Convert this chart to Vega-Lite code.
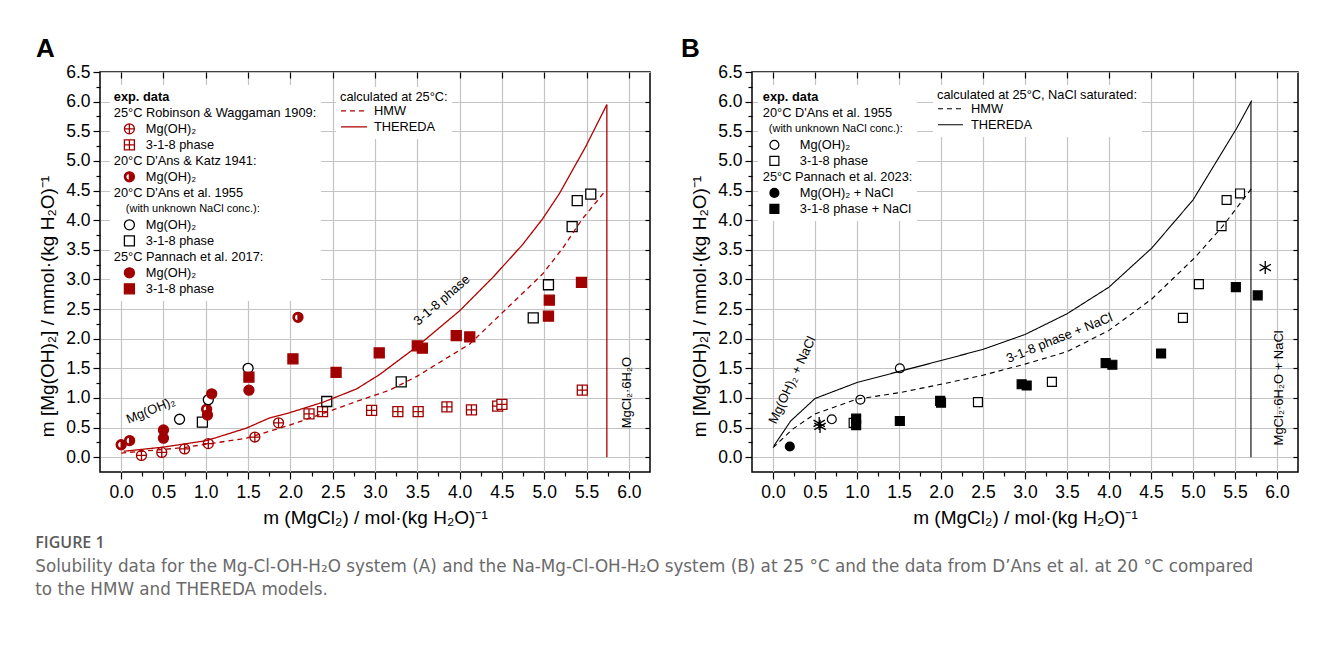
{
  "$schema": "https://vega.github.io/schema/vega-lite/v6.json",
  "background": "white",
  "padding": {"left": 35, "top": 35, "right": 5, "bottom": 5},
  "bounds": "flush",
  "spacing": 102,
  "title": {
    "text": "FIGURE 1",
    "subtitle": ["Solubility data for the Mg-Cl-OH-H₂O system (A) and the Na-Mg-Cl-OH-H₂O system (B) at 25 °C and the data from D’Ans et al. at 20 °C compared", "to the HMW and THEREDA models."],
    "orient": "bottom", "anchor": "start", "frame": "bounds", "offset": 7,
    "font": "Open Sans", "fontSize": 16, "fontWeight": 600, "color": "#5a5a5a",
    "subtitleFont": "DejaVu Sans", "subtitleFontSize": 16.8, "subtitleColor": "#6a6a6a", "subtitleLineHeight": 23, "subtitlePadding": 8
  },
  "config": {
    "font": "Liberation Sans",
    "view": {"stroke": "black", "strokeWidth": 1.5},
    "axis": {"labelFont": "Liberation Sans", "labelFontSize": 17.5, "labelColor": "black", "titleFont": "Liberation Sans", "titleFontSize": 19, "titleFontWeight": "normal", "titleColor": "black", "tickColor": "black", "tickWidth": 1.2, "gridColor": "#c4c4c4", "gridWidth": 1.2, "domain": false},
    "legend": {"labelFont": "Liberation Sans", "titleFont": "Liberation Sans", "labelColor": "black", "titleColor": "black"}
  },
  "resolve": {"scale": {"x": "independent", "y": "independent", "shape": "independent", "fill": "independent", "stroke": "independent", "strokeDash": "independent"}},
  "hconcat": [
    {
      "width": 550, "height": 400,
      "title": {"text": "A", "anchor": "start", "frame": "group", "dx": -64, "offset": 1, "fontSize": 26, "fontWeight": "bold", "font": "Liberation Sans", "color": "black"},
      "resolve": {"axis": {"x": "independent", "y": "independent"}},
      "layer": [
        {
          "data": {"values": [
            {"x": 0.24, "y": 0.03, "s": "rw_mg"}, {"x": 0.48, "y": 0.08, "s": "rw_mg"}, {"x": 0.75, "y": 0.14, "s": "rw_mg"}, {"x": 1.03, "y": 0.23, "s": "rw_mg"}, {"x": 1.58, "y": 0.34, "s": "rw_mg"}, {"x": 1.86, "y": 0.58, "s": "rw_mg"},
            {"x": 2.22, "y": 0.73, "s": "rw_318"}, {"x": 2.38, "y": 0.77, "s": "rw_318"}, {"x": 2.96, "y": 0.79, "s": "rw_318"}, {"x": 3.27, "y": 0.77, "s": "rw_318"}, {"x": 3.51, "y": 0.77, "s": "rw_318"}, {"x": 3.85, "y": 0.85, "s": "rw_318"}, {"x": 4.14, "y": 0.80, "s": "rw_318"}, {"x": 4.45, "y": 0.86, "s": "rw_318"}, {"x": 4.50, "y": 0.89, "s": "rw_318"}, {"x": 5.45, "y": 1.13, "s": "rw_318"},
            {"x": 0.0, "y": 0.21, "s": "dk_mg"}, {"x": 0.1, "y": 0.28, "s": "dk_mg"}, {"x": 1.01, "y": 0.81, "s": "dk_mg"}, {"x": 2.09, "y": 2.36, "s": "dk_mg"},
            {"x": 0.69, "y": 0.64, "s": "da_mg"}, {"x": 1.03, "y": 0.97, "s": "da_mg"}, {"x": 1.50, "y": 1.50, "s": "da_mg"},
            {"x": 0.96, "y": 0.59, "s": "da_318"}, {"x": 2.43, "y": 0.94, "s": "da_318"}, {"x": 3.31, "y": 1.27, "s": "da_318"}, {"x": 4.87, "y": 2.35, "s": "da_318"}, {"x": 5.05, "y": 2.91, "s": "da_318"}, {"x": 5.33, "y": 3.89, "s": "da_318"}, {"x": 5.39, "y": 4.33, "s": "da_318"}, {"x": 5.55, "y": 4.44, "s": "da_318"},
            {"x": 0.5, "y": 0.46, "s": "pa_mg"}, {"x": 0.5, "y": 0.32, "s": "pa_mg"}, {"x": 1.02, "y": 0.71, "s": "pa_mg"}, {"x": 1.07, "y": 1.07, "s": "pa_mg"}, {"x": 1.51, "y": 1.13, "s": "pa_mg"},
            {"x": 1.51, "y": 1.35, "s": "pa_318"}, {"x": 2.03, "y": 1.66, "s": "pa_318"}, {"x": 2.54, "y": 1.43, "s": "pa_318"}, {"x": 3.05, "y": 1.76, "s": "pa_318"}, {"x": 3.50, "y": 1.88, "s": "pa_318"}, {"x": 3.56, "y": 1.84, "s": "pa_318"}, {"x": 3.96, "y": 2.05, "s": "pa_318"}, {"x": 4.12, "y": 2.03, "s": "pa_318"}, {"x": 5.05, "y": 2.38, "s": "pa_318"}, {"x": 5.06, "y": 2.65, "s": "pa_318"}, {"x": 5.44, "y": 2.95, "s": "pa_318"}
          ]},
          "mark": {"type": "point", "opacity": 1, "strokeWidth": 1.3, "size": 100},
          "encoding": {
            "x": {"field": "x", "type": "quantitative", "scale": {"domain": [-0.25, 6.25], "nice": false, "zero": false},
              "axis": {"orient": "bottom", "values": [0, 0.5, 1, 1.5, 2, 2.5, 3, 3.5, 4, 4.5, 5, 5.5, 6], "format": ".1f", "grid": true, "tickSize": 7, "labelPadding": 4, "title": "m (MgCl₂) / mol·(kg H₂O)⁻¹", "titlePadding": 8}},
            "y": {"field": "y", "type": "quantitative", "scale": {"domain": [-0.25, 6.5], "nice": false, "zero": false},
              "axis": {"orient": "left", "values": [0, 0.5, 1, 1.5, 2, 2.5, 3, 3.5, 4, 4.5, 5, 5.5, 6, 6.5], "format": ".1f", "grid": true, "tickSize": 7, "labelPadding": 3, "title": "m [Mg(OH)₂] / mmol·(kg H₂O)⁻¹", "titlePadding": 8, "titleY": 234}},
            "shape": {"field": "s", "type": "nominal",
              "scale": {"domain": ["h_exp", "h_rw", "rw_mg", "rw_318", "h_dk", "dk_mg", "h_da", "h_da2", "da_mg", "da_318", "h_pa", "pa_mg", "pa_318"],
                "range": ["circle", "circle", "M-1,0A1,1,0,1,0,1,0A1,1,0,1,0,-1,0ZM-1,0L1,0M0,-1L0,1", "M-1,-1L1,-1L1,1L-1,1ZM-1,0L1,0M0,-1L0,1", "circle", "M0,-1A1,1,0,0,1,0,1A1,1,0,0,1,0,-1ZM0,-0.72A0.72,0.72,0,0,0,0,0.72Z", "circle", "circle", "circle", "square", "circle", "circle", "square"]},
              "legend": {"orient": "none", "legendX": 10, "legendY": 13, "title": null, "fillColor": "white", "padding": 4,
                "labelFontSize": 12.8, "labelLimit": 400, "symbolSize": 100, "symbolStrokeWidth": 1.3, "symbolOffset": 9, "labelOffset": 10, "rowPadding": 0, "clipHeight": 15.7,
                "labelExpr": "{'h_exp': 'exp. data', 'h_rw': '25°C Robinson & Waggaman 1909:', 'rw_mg': 'Mg(OH)₂', 'rw_318': '3-1-8 phase', 'h_dk': \"20°C D'Ans & Katz 1941:\", 'dk_mg': 'Mg(OH)₂', 'h_da': \"20°C D'Ans et al. 1955\", 'h_da2': '(with unknown NaCl conc.):', 'da_mg': 'Mg(OH)₂', 'da_318': '3-1-8 phase', 'h_pa': '25°C Pannach et al. 2017:', 'pa_mg': 'Mg(OH)₂', 'pa_318': '3-1-8 phase'}[datum.value]",
                "encoding": {"labels": {
                  "fontWeight": {"value": {"signal": "datum.value === 'h_exp' ? 'bold' : 'normal'"}},
                  "fontSize": {"value": {"signal": "datum.value === 'h_da2' ? 11 : 12.8"}},
                  "dx": {"value": {"signal": "indexof(['h_exp', 'h_rw', 'h_dk', 'h_da', 'h_pa'], datum.value) >= 0 ? -32 : (datum.value === 'h_da2' ? -20 : 0)"}}
                }}}},
            "fill": {"field": "s", "type": "nominal",
              "scale": {"domain": ["h_exp", "h_rw", "rw_mg", "rw_318", "h_dk", "dk_mg", "h_da", "h_da2", "da_mg", "da_318", "h_pa", "pa_mg", "pa_318"],
                "range": ["transparent", "transparent", "white", "white", "transparent", "#a00000", "transparent", "transparent", "white", "white", "transparent", "#a00000", "#a00000"]}},
            "stroke": {"field": "s", "type": "nominal",
              "scale": {"domain": ["h_exp", "h_rw", "rw_mg", "rw_318", "h_dk", "dk_mg", "h_da", "h_da2", "da_mg", "da_318", "h_pa", "pa_mg", "pa_318"],
                "range": ["transparent", "transparent", "#a00000", "#a00000", "transparent", "#a00000", "transparent", "transparent", "black", "black", "transparent", "#a00000", "#a00000"]}}
          }
        },
        {
          "data": {"values": [
            {"x": 0.03, "y": 0.10, "m": "THEREDA"}, {"x": 0.5, "y": 0.17, "m": "THEREDA"}, {"x": 1.01, "y": 0.28, "m": "THEREDA"}, {"x": 1.48, "y": 0.49, "m": "THEREDA"}, {"x": 1.75, "y": 0.66, "m": "THEREDA"}, {"x": 1.99, "y": 0.75, "m": "THEREDA"}, {"x": 2.39, "y": 0.93, "m": "THEREDA"}, {"x": 2.78, "y": 1.15, "m": "THEREDA"}, {"x": 3.05, "y": 1.39, "m": "THEREDA"}, {"x": 3.49, "y": 1.86, "m": "THEREDA"}, {"x": 4.0, "y": 2.47, "m": "THEREDA"}, {"x": 4.39, "y": 3.03, "m": "THEREDA"}, {"x": 4.74, "y": 3.58, "m": "THEREDA"}, {"x": 4.98, "y": 4.02, "m": "THEREDA"}, {"x": 5.18, "y": 4.45, "m": "THEREDA"}, {"x": 5.49, "y": 5.24, "m": "THEREDA"}, {"x": 5.74, "y": 5.95, "m": "THEREDA"},
            {"x": 0.0, "y": 0.07, "m": "HMW"}, {"x": 0.73, "y": 0.16, "m": "HMW"}, {"x": 1.48, "y": 0.32, "m": "HMW"}, {"x": 1.99, "y": 0.54, "m": "HMW"}, {"x": 2.39, "y": 0.74, "m": "HMW"}, {"x": 2.78, "y": 0.94, "m": "HMW"}, {"x": 3.17, "y": 1.13, "m": "HMW"}, {"x": 3.49, "y": 1.36, "m": "HMW"}, {"x": 4.12, "y": 1.91, "m": "HMW"}, {"x": 4.63, "y": 2.61, "m": "HMW"}, {"x": 4.98, "y": 3.09, "m": "HMW"}, {"x": 5.22, "y": 3.53, "m": "HMW"}, {"x": 5.45, "y": 4.02, "m": "HMW"}, {"x": 5.72, "y": 4.49, "m": "HMW"}
          ]},
          "mark": {"type": "line", "color": "#b00000", "strokeWidth": 1.3},
          "encoding": {
            "x": {"field": "x", "type": "quantitative", "axis": {"orient": "bottom", "values": [0.25, 0.75, 1.25, 1.75, 2.25, 2.75, 3.25, 3.75, 4.25, 4.75, 5.25, 5.75], "labels": false, "grid": false, "tickSize": 4, "title": null}},
            "y": {"field": "y", "type": "quantitative", "axis": {"orient": "left", "values": [0.25, 0.75, 1.25, 1.75, 2.25, 2.75, 3.25, 3.75, 4.25, 4.75, 5.25, 5.75, 6.25], "labels": false, "grid": false, "tickSize": 4, "title": null}},
            "strokeDash": {"field": "m", "type": "nominal", "scale": {"domain": ["HMW", "THEREDA"], "range": [[5, 4], [1, 0]]},
              "legend": {"orient": "none", "legendX": 236, "legendY": 15, "title": "calculated at 25°C:", "titleFontWeight": "normal", "titleFontSize": 12.8, "titlePadding": -1, "titleLimit": 400, "fillColor": "white", "padding": 4,
                "labelFontSize": 12.8, "symbolType": "stroke", "symbolStrokeColor": "#b00000", "symbolStrokeWidth": 1.3, "symbolSize": 676, "labelOffset": 6, "rowPadding": 0, "clipHeight": 16}}
          }
        },
        {
          "data": {"values": [{"x": 5.74, "y": 0, "y2": 5.95}]},
          "mark": {"type": "rule", "color": "#b00000", "strokeWidth": 1.3},
          "encoding": {
            "x": {"field": "x", "type": "quantitative", "axis": {"orient": "top", "values": [0, 0.5, 1, 1.5, 2, 2.5, 3, 3.5, 4, 4.5, 5, 5.5, 6], "labels": false, "grid": false, "tickSize": -6, "title": null}},
            "y": {"field": "y", "type": "quantitative", "axis": {"orient": "right", "values": [0, 0.5, 1, 1.5, 2, 2.5, 3, 3.5, 4, 4.5, 5, 5.5, 6], "labels": false, "grid": false, "tickSize": -5, "title": null}},
            "y2": {"field": "y2"}
          }
        },
        {
          "data": {"values": [{"x": 0.35, "y": 0.79, "label": "Mg(OH)₂"}]},
          "mark": {"type": "text", "angle": 338, "fontSize": 13, "align": "center", "baseline": "middle", "color": "black"},
          "encoding": {"x": {"field": "x", "type": "quantitative", "axis": null}, "y": {"field": "y", "type": "quantitative", "axis": null}, "text": {"field": "label"}}
        },
        {
          "data": {"values": [{"x": 3.79, "y": 2.65, "label": "3-1-8 phase"}]},
          "mark": {"type": "text", "angle": 319, "fontSize": 13, "align": "center", "baseline": "middle", "color": "black"},
          "encoding": {"x": {"field": "x", "type": "quantitative", "axis": null}, "y": {"field": "y", "type": "quantitative", "axis": null}, "text": {"field": "label"}}
        },
        {
          "data": {"values": [{"x": 5.98, "y": 1.09, "label": "MgCl₂·6H₂O"}]},
          "mark": {"type": "text", "angle": 270, "fontSize": 13, "align": "center", "baseline": "middle", "color": "black"},
          "encoding": {"x": {"field": "x", "type": "quantitative", "axis": null}, "y": {"field": "y", "type": "quantitative", "axis": null}, "text": {"field": "label"}}
        }
      ]
    },
    {
      "width": 546, "height": 400,
      "title": {"text": "B", "anchor": "start", "frame": "group", "dx": -71, "offset": 1, "fontSize": 26, "fontWeight": "bold", "font": "Liberation Sans", "color": "black"},
      "resolve": {"axis": {"x": "independent", "y": "independent"}},
      "layer": [
        {
          "data": {"values": [
            {"x": 0.70, "y": 0.64, "s": "da_mg"}, {"x": 1.04, "y": 0.97, "s": "da_mg"}, {"x": 1.51, "y": 1.50, "s": "da_mg"},
            {"x": 0.96, "y": 0.58, "s": "da_318"}, {"x": 2.44, "y": 0.93, "s": "da_318"}, {"x": 3.32, "y": 1.27, "s": "da_318"}, {"x": 4.88, "y": 2.35, "s": "da_318"}, {"x": 5.07, "y": 2.92, "s": "da_318"}, {"x": 5.34, "y": 3.90, "s": "da_318"}, {"x": 5.40, "y": 4.34, "s": "da_318"}, {"x": 5.56, "y": 4.45, "s": "da_318"},
            {"x": 0.20, "y": 0.18, "s": "pa_mg"},
            {"x": 0.99, "y": 0.65, "s": "pa_318"}, {"x": 0.99, "y": 0.54, "s": "pa_318"}, {"x": 1.51, "y": 0.61, "s": "pa_318"}, {"x": 1.99, "y": 0.95, "s": "pa_318"}, {"x": 2.0, "y": 0.92, "s": "pa_318"}, {"x": 2.96, "y": 1.23, "s": "pa_318"}, {"x": 3.02, "y": 1.21, "s": "pa_318"}, {"x": 3.96, "y": 1.59, "s": "pa_318"}, {"x": 4.04, "y": 1.56, "s": "pa_318"}, {"x": 4.62, "y": 1.75, "s": "pa_318"}, {"x": 5.51, "y": 2.87, "s": "pa_318"}, {"x": 5.77, "y": 2.73, "s": "pa_318"}
          ]},
          "mark": {"type": "point", "opacity": 1, "strokeWidth": 1.2, "size": 80},
          "encoding": {
            "x": {"field": "x", "type": "quantitative", "scale": {"domain": [-0.25, 6.25], "nice": false, "zero": false},
              "axis": {"orient": "bottom", "values": [0, 0.5, 1, 1.5, 2, 2.5, 3, 3.5, 4, 4.5, 5, 5.5, 6], "format": ".1f", "grid": true, "tickSize": 7, "labelPadding": 4, "title": "m (MgCl₂) / mol·(kg H₂O)⁻¹", "titlePadding": 8}},
            "y": {"field": "y", "type": "quantitative", "scale": {"domain": [-0.25, 6.5], "nice": false, "zero": false},
              "axis": {"orient": "left", "values": [0, 0.5, 1, 1.5, 2, 2.5, 3, 3.5, 4, 4.5, 5, 5.5, 6, 6.5], "format": ".1f", "grid": true, "tickSize": 7, "labelPadding": 3, "title": "m [Mg(OH)₂] / mmol·(kg H₂O)⁻¹", "titlePadding": 8, "titleY": 234}},
            "shape": {"field": "s", "type": "nominal",
              "scale": {"domain": ["h_exp", "h_da", "h_da2", "da_mg", "da_318", "h_pa", "pa_mg", "pa_318"],
                "range": ["circle", "circle", "circle", "circle", "square", "circle", "circle", "square"]},
              "legend": {"orient": "none", "legendX": 6, "legendY": 13, "title": null, "fillColor": "white", "padding": 4,
                "labelFontSize": 12.8, "labelLimit": 400, "symbolSize": 80, "symbolStrokeWidth": 1.2, "symbolOffset": 6, "labelOffset": 19, "rowPadding": 0, "clipHeight": 15.8,
                "labelExpr": "{'h_exp': 'exp. data', 'h_da': \"20°C D'Ans et al. 1955\", 'h_da2': '(with unknown NaCl conc.):', 'da_mg': 'Mg(OH)₂', 'da_318': '3-1-8 phase', 'h_pa': '25°C Pannach et al. 2023:', 'pa_mg': 'Mg(OH)₂ + NaCl', 'pa_318': '3-1-8 phase + NaCl'}[datum.value]",
                "encoding": {"labels": {
                  "fontWeight": {"value": {"signal": "datum.value === 'h_exp' ? 'bold' : 'normal'"}},
                  "fontSize": {"value": {"signal": "datum.value === 'h_da2' ? 11 : 12.8"}},
                  "dx": {"value": {"signal": "indexof(['h_exp', 'h_da', 'h_pa'], datum.value) >= 0 ? -37 : (datum.value === 'h_da2' ? -31 : 0)"}}
                }}}},
            "fill": {"field": "s", "type": "nominal",
              "scale": {"domain": ["h_exp", "h_da", "h_da2", "da_mg", "da_318", "h_pa", "pa_mg", "pa_318"],
                "range": ["transparent", "transparent", "transparent", "white", "white", "transparent", "black", "black"]}},
            "stroke": {"field": "s", "type": "nominal",
              "scale": {"domain": ["h_exp", "h_da", "h_da2", "da_mg", "da_318", "h_pa", "pa_mg", "pa_318"],
                "range": ["transparent", "transparent", "transparent", "black", "black", "transparent", "black", "black"]}}
          }
        },
        {
          "data": {"values": [
            {"x": 0.01, "y": 0.19, "m": "THEREDA"}, {"x": 0.21, "y": 0.61, "m": "THEREDA"}, {"x": 0.5, "y": 0.99, "m": "THEREDA"}, {"x": 1.0, "y": 1.26, "m": "THEREDA"}, {"x": 1.51, "y": 1.45, "m": "THEREDA"}, {"x": 2.0, "y": 1.63, "m": "THEREDA"}, {"x": 2.5, "y": 1.82, "m": "THEREDA"}, {"x": 3.0, "y": 2.07, "m": "THEREDA"}, {"x": 3.5, "y": 2.42, "m": "THEREDA"}, {"x": 4.0, "y": 2.87, "m": "THEREDA"}, {"x": 4.51, "y": 3.53, "m": "THEREDA"}, {"x": 5.0, "y": 4.34, "m": "THEREDA"}, {"x": 5.52, "y": 5.55, "m": "THEREDA"}, {"x": 5.70, "y": 6.02, "m": "THEREDA"},
            {"x": 0.0, "y": 0.16, "m": "HMW"}, {"x": 0.23, "y": 0.47, "m": "HMW"}, {"x": 0.5, "y": 0.73, "m": "HMW"}, {"x": 1.0, "y": 0.98, "m": "HMW"}, {"x": 1.51, "y": 1.09, "m": "HMW"}, {"x": 2.0, "y": 1.23, "m": "HMW"}, {"x": 2.49, "y": 1.38, "m": "HMW"}, {"x": 3.0, "y": 1.57, "m": "HMW"}, {"x": 3.5, "y": 1.78, "m": "HMW"}, {"x": 4.0, "y": 2.14, "m": "HMW"}, {"x": 4.51, "y": 2.67, "m": "HMW"}, {"x": 5.03, "y": 3.38, "m": "HMW"}, {"x": 5.35, "y": 3.89, "m": "HMW"}, {"x": 5.70, "y": 4.54, "m": "HMW"}
          ]},
          "mark": {"type": "line", "color": "black", "strokeWidth": 1.1},
          "encoding": {
            "x": {"field": "x", "type": "quantitative", "axis": {"orient": "bottom", "values": [0.25, 0.75, 1.25, 1.75, 2.25, 2.75, 3.25, 3.75, 4.25, 4.75, 5.25, 5.75], "labels": false, "grid": false, "tickSize": 4, "title": null}},
            "y": {"field": "y", "type": "quantitative", "axis": {"orient": "left", "values": [0.25, 0.75, 1.25, 1.75, 2.25, 2.75, 3.25, 3.75, 4.25, 4.75, 5.25, 5.75, 6.25], "labels": false, "grid": false, "tickSize": 4, "title": null}},
            "strokeDash": {"field": "m", "type": "nominal", "scale": {"domain": ["HMW", "THEREDA"], "range": [[5, 4], [1, 0]]},
              "legend": {"orient": "none", "legendX": 181, "legendY": 13, "title": "calculated at 25°C, NaCl saturated:", "titleFontWeight": "normal", "titleFontSize": 12.8, "titlePadding": -1, "titleLimit": 400, "fillColor": "white", "padding": 4,
                "labelFontSize": 12.8, "symbolType": "stroke", "symbolStrokeColor": "black", "symbolStrokeWidth": 1.1, "symbolSize": 625, "labelOffset": 7, "rowPadding": 0, "clipHeight": 16}}
          }
        },
        {
          "data": {"values": [{"x": 5.69, "y": 0, "y2": 6.0}]},
          "mark": {"type": "rule", "color": "black", "strokeWidth": 1.1},
          "encoding": {
            "x": {"field": "x", "type": "quantitative", "axis": {"orient": "top", "values": [0, 0.5, 1, 1.5, 2, 2.5, 3, 3.5, 4, 4.5, 5, 5.5, 6], "labels": false, "grid": false, "tickSize": -6, "title": null}},
            "y": {"field": "y", "type": "quantitative", "axis": {"orient": "right", "values": [0, 0.5, 1, 1.5, 2, 2.5, 3, 3.5, 4, 4.5, 5, 5.5, 6], "labels": false, "grid": false, "tickSize": -5, "title": null}},
            "y2": {"field": "y2"}
          }
        },
        {
          "data": {"values": [{"x": 0.55, "y": 0.57}, {"x": 0.56, "y": 0.52}, {"x": 5.86, "y": 3.20}]},
          "mark": {"type": "point", "shape": "M0,-1L0,1M-0.87,-0.5L0.87,0.5M-0.87,0.5L0.87,-0.5", "filled": false, "color": "black", "strokeWidth": 1.3, "size": 170, "opacity": 1},
          "encoding": {"x": {"field": "x", "type": "quantitative", "axis": null}, "y": {"field": "y", "type": "quantitative", "axis": null}}
        },
        {
          "data": {"values": [{"x": 0.23, "y": 1.30, "label": "Mg(OH)₂ + NaCl"}]},
          "mark": {"type": "text", "angle": 295, "fontSize": 13, "align": "center", "baseline": "middle", "color": "black"},
          "encoding": {"x": {"field": "x", "type": "quantitative", "axis": null}, "y": {"field": "y", "type": "quantitative", "axis": null}, "text": {"field": "label"}}
        },
        {
          "data": {"values": [{"x": 3.41, "y": 2.01, "label": "3-1-8 phase + NaCl"}]},
          "mark": {"type": "text", "angle": 338, "fontSize": 13, "align": "center", "baseline": "middle", "color": "black"},
          "encoding": {"x": {"field": "x", "type": "quantitative", "axis": null}, "y": {"field": "y", "type": "quantitative", "axis": null}, "text": {"field": "label"}}
        },
        {
          "data": {"values": [{"x": 6.02, "y": 1.17, "label": "MgCl₂·6H₂O + NaCl"}]},
          "mark": {"type": "text", "angle": 270, "fontSize": 13, "align": "center", "baseline": "middle", "color": "black"},
          "encoding": {"x": {"field": "x", "type": "quantitative", "axis": null}, "y": {"field": "y", "type": "quantitative", "axis": null}, "text": {"field": "label"}}
        }
      ]
    }
  ]
}
